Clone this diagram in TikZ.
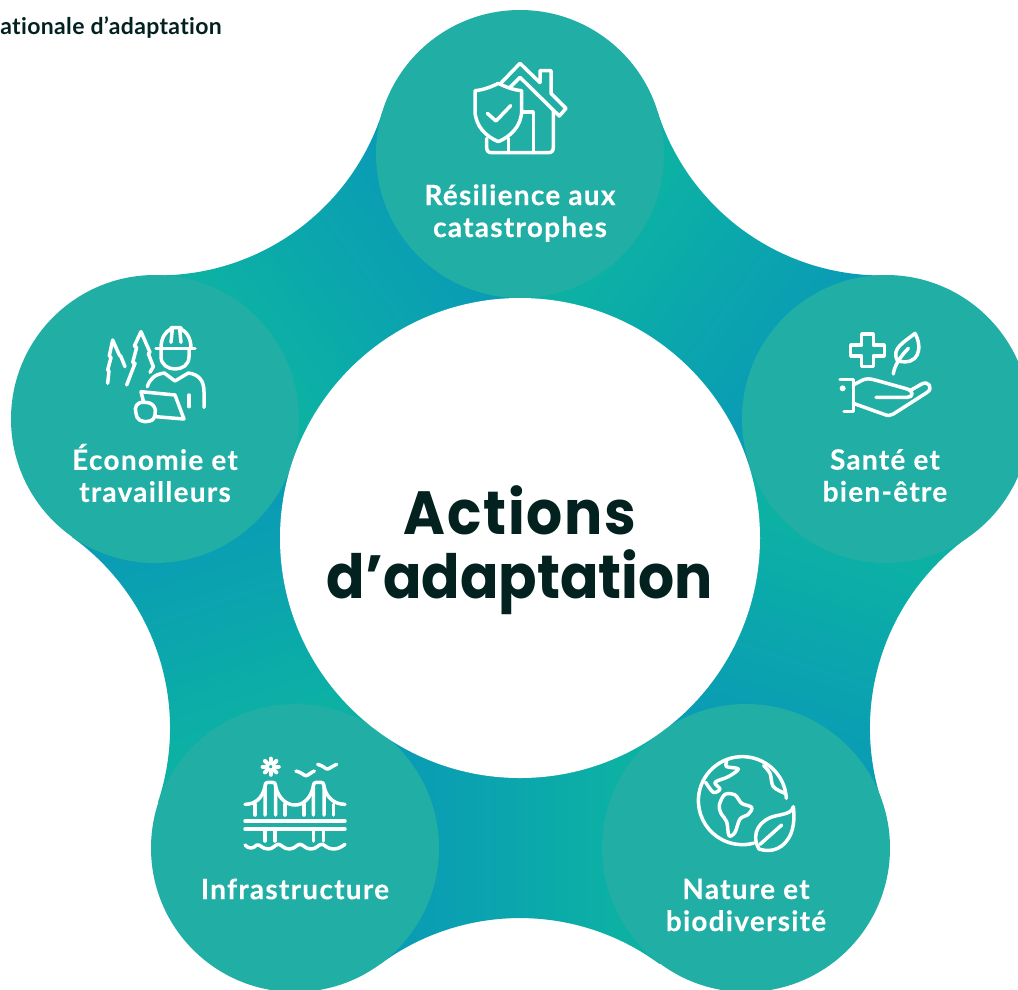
\documentclass[tikz,border=0pt]{standalone}
\usepackage{fontspec}
\setmainfont{Lato}[Ligatures=NoCommon]
\newfontfamily\headfont{Poppins}[FakeStretch=0.93]
\definecolor{petal}{HTML}{20AEA5}
\definecolor{gradblue}{HTML}{0A9CB5}
\definecolor{gradgreen}{HTML}{0CB1A4}
\definecolor{inkdark}{HTML}{03221F}
\pgfdeclarehorizontalshading{starfade}{1000pt}{color(0pt)=(gradblue); color(390pt)=(gradblue); color(600pt)=(gradgreen); color(1000pt)=(gradgreen)}
\tikzset{
  petalcircle/.style={fill=petal,draw=none,circle,minimum size=288pt,inner sep=0pt},
  hubcircle/.style={fill=white,draw=none,circle,minimum size=480pt,inner sep=0pt},
  petallabel/.style={text=white,align=center,font=\fontsize{28}{32}\selectfont\bfseries\addfontfeature{LetterSpace=4.5,FakeBold=0.25},inner sep=0pt},
  hublabel/.style={text=inkdark,align=center,font=\fontsize{61}{64}\selectfont\headfont\bfseries,inner sep=0pt},
  crumb/.style={text=inkdark,font=\fontsize{23}{26}\selectfont\bfseries\addfontfeature{LetterSpace=1.5},inner sep=0pt},
  iconline/.style={draw=white,line width=3.5pt,line cap=round,line join=round,fill=none},
}
\begin{document}
\begin{tikzpicture}[x=1pt,y=-1pt]
\useasboundingbox (0,0) rectangle (1018,989);
\clip (0,0) rectangle (1018,989);
\fill[white] (0,0) rectangle (1018,989);
% gradient star, five sectors
\foreach \k in {0,...,4}{
  \begin{scope}[rotate around={\k*72:(520,538)}]
    \clip (520,538) -- (295,848) -- (380.5,963.9) arc[start angle=233.6,end angle=306.4,radius=235] -- (746,848) -- cycle;
    \node[transform shape,inner sep=0pt] (fade\k) at (520,800) {\pgfuseshading{starfade}};
  \end{scope}
}
\node[petalcircle] (top) at (520,154) {};
\node[petalcircle] (right) at (886,419) {};
\node[petalcircle] (lowright) at (746,848) {};
\node[petalcircle] (lowleft) at (295,848) {};
\node[petalcircle] (left) at (155,419) {};
\node[hubcircle] (hub) at (520,538) {};
\node[hublabel] (hubtext) at (520,550) {{\addfontfeature{LetterSpace=3}Actions}\\d’adaptation};
\node[crumb,anchor=base east] (crumbtext) at (222,34) {ationale d’adaptation};
\node[petallabel] (toptext) at (520,213) {Résilience aux\\catastrophes};
\node[petallabel] (righttext) at (885,475.5) {Santé et\\bien-être};
\node[petallabel] (lowrighttext) at (746,905) {Nature et\\biodiversité};
\node[petallabel] (lowlefttext) at (295,889) {Infrastructure};
\node[petallabel] (lefttext) at (155,473) {Économie et\\travailleurs};
% house & shield icon
\begin{scope}[shift={(440,40)},scale=1/3]
  \draw[iconline] (182,130) -- (240,70) -- (300,128) -- (300,92) -- (333,92) -- (333,160) -- (378,205) -- (358,228) -- (240,112) -- (210,142);
  \draw[iconline] (340,212) -- (340,322) .. controls (340,333) and (335,338) .. (325,338) -- (155,338) .. controls (145,338) and (140,333) .. (140,322) -- (140,295);
  \draw[iconline] (205,295) -- (205,338);
  \draw[iconline] (250,216) -- (280,216) -- (280,338);
  \draw[iconline] (105,152) .. controls (130,150) and (155,140) .. (175,130) .. controls (195,140) and (220,150) .. (245,152) -- (245,210) .. controls (245,260) and (210,290) .. (175,305) .. controls (140,290) and (105,260) .. (105,210) -- cycle;
  \draw[iconline] (142,220) -- (168,243) -- (212,197);
\end{scope}
% health icon
\begin{scope}[shift={(820,320)},scale=1/3]
  \draw[iconline] (125,42) -- (160,42) -- (160,75) -- (193,75) -- (193,108) -- (160,108) -- (160,140) -- (125,140) -- (125,108) -- (92,108) -- (92,75) -- (125,75) -- cycle;
  \draw[iconline] (232,122) .. controls (212,85) and (255,65) .. (285,40) .. controls (310,85) and (295,140) .. (232,122) -- cycle;
  \draw[iconline] (220,162) .. controls (222,140) and (240,110) .. (265,85);
  \draw[iconline] (60,178) -- (100,178) -- (100,275) -- (72,275);
  \fill[white] (68,205) circle[radius=9];
  \draw[iconline] (100,195) -- (128,180) .. controls (140,175) and (150,176) .. (165,180) -- (255,205) .. controls (285,212) and (280,232) .. (262,232) -- (168,232);
  \draw[iconline] (100,250) -- (195,284) .. controls (205,288) and (212,286) .. (220,282) -- (320,218) .. controls (342,205) and (325,180) .. (305,192) -- (270,212);
\end{scope}
% worker icon
\begin{scope}[shift={(85,315)},scale=1/3]
  \draw[iconline] (213,100) -- (330,100);
  \draw[iconline] (228,100) .. controls (228,70) and (240,50) .. (258,42) -- (258,38) -- (288,38) -- (288,42) .. controls (305,50) and (318,70) .. (318,100);
  \draw[iconline] (262,42) -- (258,82);
  \draw[iconline] (284,42) -- (288,82);
  \draw[iconline] (228,100) -- (228,125) .. controls (228,150) and (250,162) .. (270,162) .. controls (292,162) and (312,150) .. (312,125) -- (312,100);
  \draw[iconline] (187,215) .. controls (195,190) and (210,178) .. (238,174) -- (270,198) -- (310,174) .. controls (340,178) and (357,195) .. (357,230) -- (357,277);
  \draw[iconline] (312,240) -- (312,275);
  \draw[iconline] (175,258) -- (168,230) -- (270,240) -- (297,312) -- (212,305);
  \draw[iconline] plot[smooth cycle,tension=0.8] coordinates {(178,262) (155,270) (153,295) (165,316) (195,318) (210,300) (205,272)};
  \draw[iconline] (68,205) -- (72,168) -- (68,165) -- (78,128) -- (73,122) -- (83,75) -- (103,120) -- (108,125) -- (120,155);
  \draw[iconline] (125,210) -- (150,145) -- (143,143) -- (155,97) -- (148,93) -- (168,50) -- (195,112) -- (190,116) -- (205,155) -- (195,172);
\end{scope}
% bridge icon
\begin{scope}[shift={(230,745)},scale=1/3]
  \draw[white,line width=3.6pt] (122,65) circle[radius=11];
  \foreach \a in {0,45,...,315}{
    \draw[white,line width=4.2pt,line cap=round] (122,65) ++(\a:17) -- ++(\a:7);
  }
  \draw[iconline] (198,78) .. controls (215,82) and (222,92) .. (228,92) .. controls (234,92) and (240,84) .. (253,78);
  \draw[iconline] (263,58) .. controls (280,62) and (286,72) .. (292,72) .. controls (298,72) and (305,64) .. (320,58);
  \draw[iconline] (45,228) -- (345,228);
  \draw[iconline] (45,252) -- (345,252);
  \draw[iconline] (105,210) -- (105,122) .. controls (106,115) and (108,112) .. (114,112) -- (128,112) .. controls (134,112) and (136,115) .. (137,122) -- (137,210);
  \draw[iconline] (250,210) -- (250,122) .. controls (251,115) and (253,112) .. (259,112) -- (273,112) .. controls (279,112) and (281,115) .. (282,122) -- (282,210);
  \draw[iconline] (45,178) .. controls (75,178) and (97,160) .. (105,125);
  \draw[iconline] (137,125) .. controls (145,160) and (170,180) .. (195,180) .. controls (220,180) and (242,160) .. (250,125);
  \draw[iconline] (282,125) .. controls (290,160) and (315,178) .. (345,178);
  \foreach \x in {75,165,222,310}{\draw[iconline] (\x,178) -- (\x,210);}
  \foreach \x in {105,135,250,280}{\draw[iconline] (\x,252) -- (\x,288);}
  \draw[iconline] (45,300) .. controls (55,312) and (70,312) .. (80,300) .. controls (90,296) and (95,312) .. (115,312) .. controls (130,312) and (135,298) .. (145,298) .. controls (155,298) and (160,312) .. (178,312) .. controls (195,312) and (200,298) .. (210,298) .. controls (220,298) and (225,312) .. (243,312) .. controls (260,312) and (265,298) .. (275,298) .. controls (285,298) and (290,312) .. (310,312) .. controls (325,312) and (335,305) .. (345,298);
\end{scope}
% globe icon
\begin{scope}[shift={(685,745)},scale=1/3]
  \draw[iconline] (304,160) arc[start angle=-3,end angle=-285,radius=132];
  \draw[iconline] plot[smooth cycle,tension=0.55] coordinates {(103,180) (120,148) (150,150) (170,175) (200,187) (190,208) (165,222) (150,262) (132,272) (125,230) (108,205)};
  \draw[iconline] plot[smooth,tension=0.55] coordinates {(62,112) (85,142) (105,132) (90,112) (130,95) (160,72) (125,65) (125,50)};
  \draw[iconline] plot[smooth,tension=0.55] coordinates {(236,62) (255,85) (265,125) (300,145)};
  \draw[iconline] (325,185) .. controls (322,200) and (310,205) .. (275,212) .. controls (225,222) and (195,265) .. (222,312) .. controls (260,325) and (300,310) .. (318,265) .. controls (328,240) and (328,210) .. (325,185) -- cycle;
  \draw[iconline] (225,298) -- (290,240);
\end{scope}
\end{tikzpicture}
\end{document}
